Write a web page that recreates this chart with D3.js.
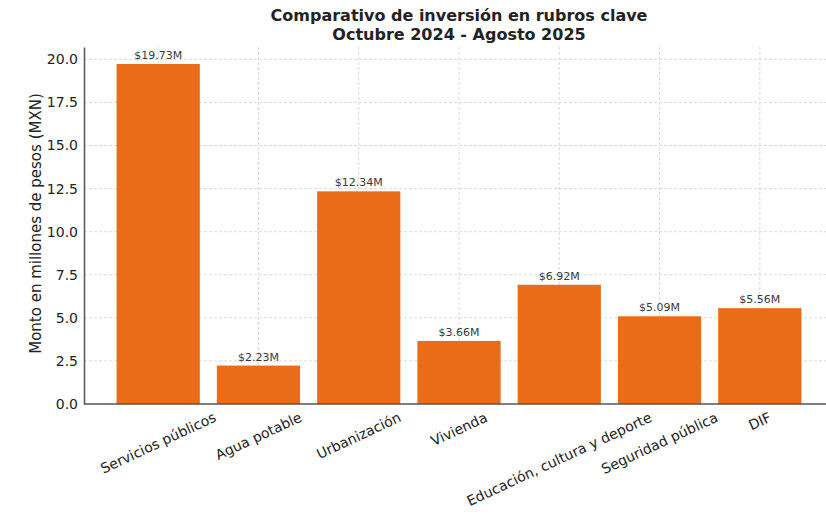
<!DOCTYPE html>
<html>
<head>
<meta charset="utf-8">
<script src="https://cdn.jsdelivr.net/npm/d3@7"></script>
<style>
  body { margin: 0; background: #fff; }
  svg { display: block; font-family: "DejaVu Sans", sans-serif; }
</style>
</head>
<body>
<div id="chart"></div>
<script>
// Chart values
const rubros = ['Servicios públicos', 'Agua potable', 'Urbanización', 'Vivienda',
  'Educación, cultura y deporte', 'Seguridad pública', 'DIF'];
const montos = [19.73, 2.23, 12.34, 3.66, 6.92, 5.09, 5.56];
const yTicks = [0, 2.5, 5, 7.5, 10, 12.5, 15, 17.5, 20];
const titleLines = ['Comparativo de inversión en rubros clave', 'Octubre 2024 - Agosto 2025'];

const W = 826, H = 525;
const margin = {top: 47, left: 84, bottom: 121};
const plotRight = 834; // the axes run past the picture edge
const height = H - margin.top - margin.bottom;

const svg = d3.select('#chart').append('svg')
  .attr('width', W).attr('height', H);

// x: matplotlib-like linear positions, margin 0.05 around bars
const x = d3.scaleLinear()
  .domain([-0.74, rubros.length - 1 + 0.74])
  .range([margin.left, plotRight]);
const barW = x(0.83) - x(0);

const y = d3.scaleLinear()
  .domain([0, d3.max(montos) * 1.05])
  .range([margin.top + height, margin.top]);

// grid
const grid = svg.append('g').attr('stroke', '#d0d0d0').attr('stroke-dasharray', '3,2')
  .attr('stroke-width', 0.8);
grid.selectAll('line.h').data(yTicks.slice(1)).enter().append('line')
  .attr('x1', margin.left).attr('x2', plotRight)
  .attr('y1', d => y(d)).attr('y2', d => y(d));
grid.selectAll('line.v').data(rubros).enter().append('line')
  .attr('x1', (d, i) => x(i)).attr('x2', (d, i) => x(i))
  .attr('y1', margin.top).attr('y2', y(0));

// bars
svg.selectAll('rect.bar').data(montos).enter().append('rect')
  .attr('class', 'bar')
  .attr('x', (d, i) => x(i) - barW / 2)
  .attr('width', barW)
  .attr('y', d => y(d))
  .attr('height', d => y(0) - y(d))
  .attr('fill', '#ea6b18');

// value labels
svg.selectAll('text.val').data(montos).enter().append('text')
  .attr('x', (d, i) => x(i))
  .attr('y', d => y(d) - 5)
  .attr('text-anchor', 'middle')
  .attr('font-size', 11)
  .attr('fill', '#3a3a3a')
  .text(d => '$' + d.toFixed(2) + 'M');

// y axis
const yAxis = svg.append('g')
  .attr('transform', 'translate(' + margin.left + ',0)')
  .call(d3.axisLeft(y).tickValues(yTicks).tickFormat(d3.format('.1f')).tickSize(0).tickPadding(6));
yAxis.select('.domain').attr('stroke', '#555').attr('stroke-width', 1.5);
yAxis.selectAll('text').attr('font-size', 14).attr('fill', '#222')
  .attr('font-family', '"DejaVu Sans", sans-serif');

// bottom spine
svg.append('line')
  .attr('x1', margin.left).attr('x2', plotRight)
  .attr('y1', y(0)).attr('y2', y(0))
  .attr('stroke', '#555').attr('stroke-width', 1.5);

// x labels, rotated 25deg, centred on tick
const angle = 25 * Math.PI / 180;
const xl = svg.append('g');
rubros.forEach(function (r, i) {
  const t = xl.append('text')
    .attr('font-size', 14).attr('fill', '#222')
    .attr('text-anchor', 'middle')
    .attr('dominant-baseline', 'central')
    .text(r);
  const len = t.node().getComputedTextLength();
  const bh = len * Math.sin(angle) + 16 * Math.cos(angle);
  const cy = y(0) + 5 + bh / 2;
  t.attr('transform', 'translate(' + x(i) + ',' + cy + ') rotate(-25)');
});

// y label
svg.append('text')
  .attr('transform', 'translate(41,' + (margin.top + height / 2 - 2) + ') rotate(-90)')
  .attr('text-anchor', 'middle')
  .attr('font-size', 15).attr('fill', '#222')
  .text('Monto en millones de pesos (MXN)');

// title
svg.selectAll('text.title').data(titleLines).enter().append('text')
  .attr('x', (margin.left + plotRight) / 2)
  .attr('y', (d, i) => 21 + i * 18.5)
  .attr('text-anchor', 'middle')
  .attr('font-size', 16).attr('font-weight', 'bold').attr('fill', '#222')
  .text(d => d);
</script>
</body>
</html>
